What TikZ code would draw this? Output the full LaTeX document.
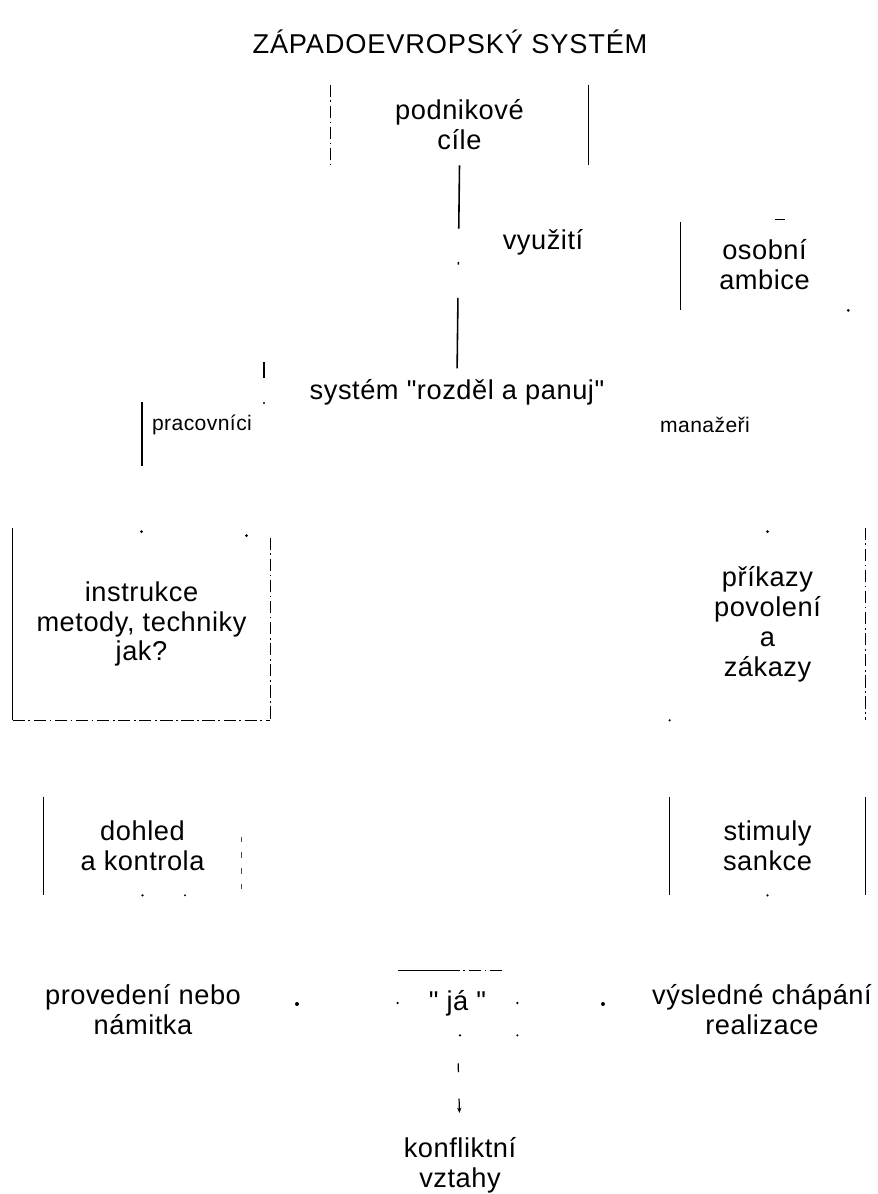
\documentclass[tikz,border=0pt]{standalone}
\usepackage{fontspec}
\setmainfont{Liberation Sans}
\newfontfamily\mainf{Liberation Sans}[LetterSpace=2]
\newfontfamily\titlef{Liberation Sans}[LetterSpace=3]
\usetikzlibrary{arrows.meta}
\begin{document}
\begin{tikzpicture}[x=0.02cm,y=-0.02cm]
\tikzset{
  lbl/.style={align=center, font=\mainf\fontsize{15.5}{17}\selectfont, inner sep=0pt},
  sm/.style={font=\mainf\fontsize{12}{14}\selectfont, inner sep=0pt},
  ttl/.style={font=\titlef\fontsize{15.5}{18}\selectfont, inner sep=0pt},
  box/.style={lbl, draw=none},
  side/.style={line width=0.9pt, black},
  broken/.style={line width=0.8pt, black, dash pattern=on 7pt off 2pt on 1pt off 2pt},
  faint/.style={line width=0.6pt, black!70, dash pattern=on 3pt off 6pt},
  dotmark/.style={fill=black, draw=none},
}
\useasboundingbox (0,0) rectangle (877,1194);

% title
\node[ttl] (title) at (450,42) {ZÁPADOEVROPSKÝ SYSTÉM};

% podnikove cile
\node[box, minimum width=5.14cm, minimum height=1.6cm] (cile) at (459.5,125) {podnikové\\cíle};
\draw[broken] (cile.north west) -- (cile.south west);
\draw[side] (cile.north east) -- (cile.south east);

% vyuziti
\node[lbl] (vyuz) at (543,242) {využití};

% osobni ambice
\node[box, minimum width=3.34cm, minimum height=1.8cm] (amb) at (764.5,265) {osobní\\ambice};
\draw[side] ([yshift=-0.04cm]amb.north west) -- (amb.south west);
\draw[side, line width=0.6pt] ([xshift=0.2cm]amb.north) -- ++(10,0);
\fill[dotmark] (amb.south east) circle (1.5);

% system rozdel a panuj
\node[lbl] (sys) at (457,392) {systém "rozděl a panuj"};
\draw[side, dash pattern=on 36pt off 19pt on 1.5pt off 19pt on 40pt] (cile.south) -- (sys.north);

% branch labels
\node[sm] (prac) at (202,425) {pracovníci};
\node[sm] (man) at (705,425) {manažeři};
\coordinate (k1) at (264,362);
\draw[side, line width=0.6pt] (k1) -- ++(0,16);
\fill[dotmark] (264,403) circle (1.2);
\coordinate (pl) at (142,402);

% instrukce
\node[box, minimum width=5.14cm, minimum height=3.84cm] (instr) at (141.5,624) {instrukce\\metody, techniky\\jak?};
\draw[side] (pl) -- ++(0,64);
\draw[side] (instr.north west) -- (instr.south west);
\draw[broken, line width=0.6pt] (instr.south west) -- (instr.south east);
\draw[broken, line width=0.6pt] ([yshift=-0.2cm]instr.north east) -- (instr.south east);
\fill[dotmark] ([yshift=-0.08cm]instr.north) circle (1.5);
\fill[dotmark] ([xshift=2.1cm,yshift=-0.16cm]instr.north) circle (1.5);

% prikazy
\node[box, minimum width=3.9cm, minimum height=3.84cm] (prik) at (767.5,624) {příkazy\\povolení\\a\\zákazy};
\draw[broken] (prik.north east) -- (prik.south east);
\fill[dotmark] ([yshift=-0.08cm]prik.north) circle (1.5);
\fill[dotmark] (prik.south west) circle (1.2);

% dohled a kontrola
\node[box, minimum width=3.94cm, minimum height=1.96cm] (doh) at (142.5,846) {dohled\\a kontrola};
\draw[side] (doh.north west) -- (doh.south west);
\draw[faint] ([yshift=-0.8cm]doh.north east) -- (doh.south east);
\fill[dotmark] (doh.south) circle (1.3);
\fill[dotmark] ([xshift=0.85cm]doh.south) circle (1.1);

% stimuly sankce
\node[box, minimum width=3.9cm, minimum height=1.96cm] (stim) at (767.5,846) {stimuly\\sankce};
\draw[side] (stim.north west) -- (stim.south west);
\draw[side] (stim.north east) -- (stim.south east);
\fill[dotmark] (stim.south) circle (1.2);

% bottom row
\node[lbl] (prov) at (143,1010) {provedení nebo\\námitka};
\node[lbl] (vysl) at (762,1010) {výsledné chápání\\realizace};
\node[box, minimum width=2.38cm, minimum height=1.28cm] (ja) at (457.5,1003) {" já "};
\draw[side, line width=0.8pt] (ja.north west) -- ([xshift=1.0cm]ja.north west);
\draw[broken, line width=0.6pt] ([xshift=1.0cm]ja.north west) -- ([xshift=-0.3cm]ja.north east);
\fill[dotmark] (ja.west) circle (1.3);
\fill[dotmark] (ja.east) circle (1.3);
\fill[dotmark] ([xshift=0.05cm]ja.south) circle (1.2);
\fill[dotmark] (ja.south east) circle (1.2);
\coordinate (pa) at (297,1004);
\coordinate (va) at (603,1004);
\fill[dotmark] (pa) circle (2);
\fill[dotmark] (va) circle (2);

% konfliktni vztahy
\node[lbl] (konf) at (460,1165) {konfliktní\\vztahy};
\draw[line width=0.7pt, shorten >=0.48cm, dash pattern=on 0pt off 16pt on 5pt off 15pt on 8pt off 20pt, -{Stealth[length=3pt,width=2.5pt]}] (ja.south) -- (konf.north);
\end{tikzpicture}
\end{document}
